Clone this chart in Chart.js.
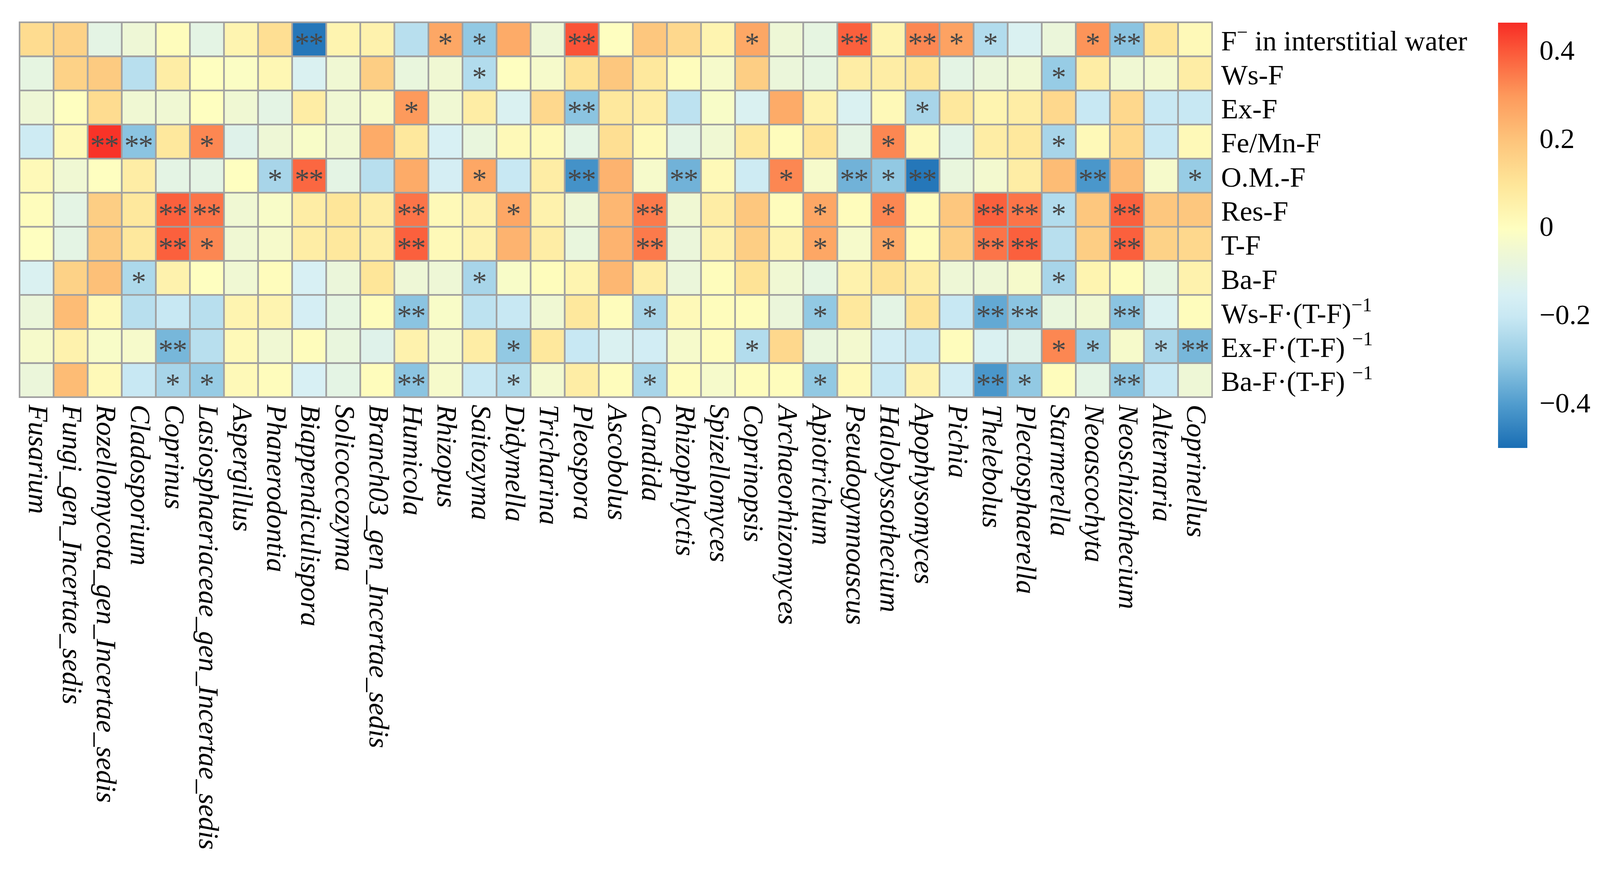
<!DOCTYPE html>
<html lang="en">
<head>
<meta charset="UTF-8">
<title>Fungal genera and fluorine fractions</title>
<script src="https://cdn.jsdelivr.net/npm/chart.js@4/dist/chart.umd.min.js"></script>
<style>
  html, body { margin: 0; padding: 0; background: #fff; }
  #wrap { position: relative; width: 4109px; height: 2243px; }
  #heat { position: absolute; left: 0; top: 0; }
  #bar { position: absolute; left: 3835px; top: 0; }
</style>
</head>
<body>
<div id="wrap">
  <canvas id="heat" width="4109" height="2243"></canvas>
  <canvas id="bar" width="274" height="1250"></canvas>
</div>
<script>
// columns (genera)
const genera = [
  "Fusarium", "Fungi_gen_Incertae_sedis", "Rozellomycota_gen_Incertae_sedis", "Cladosporium",
  "Coprinus", "Lasiosphaeriaceae_gen_Incertae_sedis", "Aspergillus", "Phanerodontia",
  "Biappendiculispora", "Solicoccozyma", "Branch03_gen_Incertae_sedis", "Humicola",
  "Rhizopus", "Saitozyma", "Didymella", "Tricharina", "Pleospora", "Ascobolus", "Candida",
  "Rhizophlyctis", "Spizellomyces", "Coprinopsis", "Archaeorhizomyces", "Apiotrichum",
  "Pseudogymnoascus", "Halobyssothecium", "Apophysomyces", "Pichia", "Thelebolus",
  "Plectosphaerella", "Starmerella", "Neoascochyta", "Neoschizothecium", "Alternaria", "Coprinellus"
];

// rows (fluorine fractions)
const rowLabels = [
  "F⁻ in interstitial water", "Ws-F", "Ex-F", "Fe/Mn-F", "O.M.-F", "Res-F", "T-F", "Ba-F",
  "Ws-F·(T-F)⁻¹", "Ex-F·(T-F) ⁻¹", "Ba-F·(T-F) ⁻¹"
];

// correlation values, one array per row
const fInterstitial = [0.13, 0.16, -0.1, -0.06, 0.01, -0.1, 0.04, 0.12, -0.48, 0.04, 0.05, -0.23, 0.27, -0.3, 0.26, -0.06, 0.41, 0.0, 0.19, 0.14, 0.04, 0.27, -0.06, -0.09, 0.39, 0.04, 0.33, 0.28, -0.24, -0.14, -0.07, 0.31, -0.31, 0.1, 0.02];
const wsF = [-0.09, 0.16, 0.18, -0.23, 0.07, 0.0, -0.01, 0.03, -0.14, -0.05, 0.17, -0.08, -0.05, -0.24, 0.0, -0.03, 0.11, 0.19, 0.09, 0.01, -0.03, 0.17, -0.07, -0.09, 0.07, 0.07, 0.1, -0.1, -0.07, -0.05, -0.29, 0.07, -0.05, -0.04, 0.07];
const exF = [-0.06, 0.0, 0.13, -0.05, -0.05, 0.0, -0.05, -0.1, 0.07, -0.05, -0.03, 0.3, -0.05, 0.07, -0.14, 0.14, -0.31, 0.09, 0.07, -0.22, -0.02, -0.14, 0.26, 0.05, -0.14, 0.02, -0.26, 0.09, 0.04, 0.07, 0.14, -0.2, 0.14, -0.2, -0.2];
const feMnF = [-0.18, 0.02, 0.46, -0.31, 0.09, 0.33, -0.12, -0.06, -0.02, -0.05, 0.26, 0.09, -0.15, -0.08, 0.02, 0.02, -0.1, 0.12, 0.02, -0.1, -0.05, 0.09, 0.01, 0.11, -0.1, 0.33, 0.02, -0.11, 0.07, 0.09, -0.26, 0.02, 0.14, -0.2, 0.02];
const omF = [0.02, -0.05, 0.0, 0.07, -0.1, -0.1, 0.0, -0.26, 0.38, -0.1, -0.23, 0.26, -0.16, 0.27, -0.2, 0.07, -0.42, 0.24, -0.03, -0.35, 0.02, -0.18, 0.33, -0.03, -0.35, -0.3, -0.48, -0.08, -0.04, 0.07, 0.22, -0.41, 0.22, -0.03, -0.29];
const resF = [0.01, -0.1, 0.17, 0.09, 0.39, 0.36, -0.05, -0.02, 0.07, 0.1, 0.07, 0.36, 0.02, 0.05, 0.27, 0.05, -0.06, 0.23, 0.35, -0.05, 0.07, 0.19, 0.01, 0.27, 0.01, 0.33, 0.01, 0.19, 0.39, 0.36, -0.24, 0.19, 0.39, 0.19, 0.19];
const tF = [0.0, -0.1, 0.18, 0.09, 0.39, 0.33, -0.05, -0.03, 0.07, 0.09, 0.07, 0.39, 0.02, 0.05, 0.24, 0.07, -0.08, 0.24, 0.35, -0.07, 0.05, 0.17, 0.04, 0.27, -0.03, 0.27, 0.01, 0.17, 0.36, 0.39, -0.23, 0.17, 0.39, 0.16, 0.14];
const baF = [-0.14, 0.16, 0.21, -0.25, 0.05, 0.0, -0.05, 0.01, -0.15, -0.07, 0.1, -0.06, -0.06, -0.26, -0.02, 0.01, 0.04, 0.23, 0.07, -0.07, 0.01, 0.11, -0.05, -0.09, 0.05, 0.11, 0.07, -0.06, -0.06, -0.03, -0.26, 0.04, 0.01, -0.09, 0.05];
const wsRatio = [-0.07, 0.22, 0.02, -0.23, -0.2, -0.23, 0.04, 0.04, -0.16, -0.09, 0.01, -0.31, -0.02, -0.22, -0.2, -0.05, 0.09, 0.01, -0.26, 0.02, 0.01, 0.01, -0.07, -0.3, 0.09, -0.1, 0.11, -0.2, -0.37, -0.31, -0.08, -0.05, -0.31, -0.14, 0.01];
const exRatio = [-0.03, 0.05, -0.02, -0.03, -0.34, -0.23, 0.02, -0.05, 0.01, -0.08, -0.12, 0.05, -0.03, 0.07, -0.3, 0.09, -0.2, -0.14, -0.17, -0.03, 0.01, -0.24, 0.14, -0.08, -0.04, -0.17, -0.2, 0.01, -0.14, -0.12, 0.33, -0.29, -0.03, -0.26, -0.34];
const baRatio = [-0.07, 0.22, 0.02, -0.2, -0.26, -0.29, 0.02, 0.01, -0.15, -0.1, 0.01, -0.31, -0.03, -0.2, -0.24, -0.04, 0.07, 0.01, -0.26, 0.01, -0.03, 0.01, 0.01, -0.3, 0.02, -0.2, 0.05, -0.17, -0.41, -0.3, 0.01, -0.1, -0.31, -0.2, -0.06];

// significance: 0 none, 1 = *, 2 = **
const sigFInterstitial = [0,0,0,0,0,0,0,0,2,0,0,0,1,1,0,0,2,0,0,0,0,1,0,0,2,0,2,1,1,0,0,1,2,0,0];
const sigWsF = [0,0,0,0,0,0,0,0,0,0,0,0,0,1,0,0,0,0,0,0,0,0,0,0,0,0,0,0,0,0,1,0,0,0,0];
const sigExF = [0,0,0,0,0,0,0,0,0,0,0,1,0,0,0,0,2,0,0,0,0,0,0,0,0,0,1,0,0,0,0,0,0,0,0];
const sigFeMnF = [0,0,2,2,0,1,0,0,0,0,0,0,0,0,0,0,0,0,0,0,0,0,0,0,0,1,0,0,0,0,1,0,0,0,0];
const sigOmF = [0,0,0,0,0,0,0,1,2,0,0,0,0,1,0,0,2,0,0,2,0,0,1,0,2,1,2,0,0,0,0,2,0,0,1];
const sigResF = [0,0,0,0,2,2,0,0,0,0,0,2,0,0,1,0,0,0,2,0,0,0,0,1,0,1,0,0,2,2,1,0,2,0,0];
const sigTF = [0,0,0,0,2,1,0,0,0,0,0,2,0,0,0,0,0,0,2,0,0,0,0,1,0,1,0,0,2,2,0,0,2,0,0];
const sigBaF = [0,0,0,1,0,0,0,0,0,0,0,0,0,1,0,0,0,0,0,0,0,0,0,0,0,0,0,0,0,0,1,0,0,0,0];
const sigWsRatio = [0,0,0,0,0,0,0,0,0,0,0,2,0,0,0,0,0,0,1,0,0,0,0,1,0,0,0,0,2,2,0,0,2,0,0];
const sigExRatio = [0,0,0,0,2,0,0,0,0,0,0,0,0,0,1,0,0,0,0,0,0,1,0,0,0,0,0,0,0,0,1,1,0,1,2];
const sigBaRatio = [0,0,0,0,1,1,0,0,0,0,0,2,0,0,1,0,0,0,1,0,0,0,0,1,0,0,0,0,2,1,0,0,2,0,0];

const rows = [fInterstitial, wsF, exF, feMnF, omF, resF, tF, baF, wsRatio, exRatio, baRatio];
const sigRows = [sigFInterstitial, sigWsF, sigExF, sigFeMnF, sigOmF, sigResF, sigTF, sigBaF, sigWsRatio, sigExRatio, sigBaRatio];

// colour scale
const colorValues = [-0.5, -0.4, -0.3, -0.2, -0.15, -0.1, -0.05, 0, 0.1, 0.2, 0.3, 0.4, 0.47];
const colorHexes = ["#1a6eb4", "#4f9bcd", "#92c9e3", "#c8e8f3", "#d8f0f4", "#e4f4e4", "#f0f8d3", "#fefec0",
                    "#fee699", "#fdc47b", "#fd9a5c", "#fb5a3a", "#f72c25"];
const barMin = -0.497;
const barMax = 0.467;
const barTicks = [0.4, 0.2, 0, -0.2, -0.4];

function hexToRgb(h) {
  return [parseInt(h.slice(1, 3), 16), parseInt(h.slice(3, 5), 16), parseInt(h.slice(5, 7), 16)];
}

function valueColor(v) {
  if (v <= colorValues[0]) return colorHexes[0];
  for (let i = 1; i < colorValues.length; i++) {
    if (v <= colorValues[i]) {
      const t = (v - colorValues[i - 1]) / (colorValues[i] - colorValues[i - 1]);
      const a = hexToRgb(colorHexes[i - 1]), b = hexToRgb(colorHexes[i]);
      const c = a.map((x, k) => Math.round(x + (b[k] - x) * t));
      return "rgb(" + c.join(",") + ")";
    }
  }
  return colorHexes[colorHexes.length - 1];
}

const gridGrey = "#a0a0a0";

// draws the stars, the axis labels and the outer frame
const heatLabels = {
  id: "heatLabels",
  afterDatasetsDraw(chart) {
    const ctx = chart.ctx;
    const area = chart.chartArea;
    const xs = chart.scales.x, ys = chart.scales.y;

    ctx.save();
    ctx.strokeStyle = gridGrey;
    ctx.lineWidth = 2;
    ctx.strokeRect(area.left - 1, area.top - 1, area.right - area.left + 2, area.bottom - area.top + 2);

    // significance stars, sized so one star is about 28px tall
    ctx.fillStyle = "#474747";
    ctx.textAlign = "center";
    ctx.textBaseline = "alphabetic";
    ctx.font = '100px "Liberation Serif"';
    let m = ctx.measureText("*");
    const starSize = Math.round(100 * 28 / (m.actualBoundingBoxAscent + m.actualBoundingBoxDescent));
    ctx.font = starSize + 'px "Liberation Serif"';
    m = ctx.measureText("*");
    const dy = (m.actualBoundingBoxAscent - m.actualBoundingBoxDescent) / 2;
    chart.data.datasets.forEach((ds, r) => {
      const meta = chart.getDatasetMeta(r);
      meta.data.forEach((el, c) => {
        const n = sigRows[r][c];
        if (!n) return;
        const p = el.getCenterPoint();
        if (n === 1) {
          ctx.fillText("*", p.x, p.y + dy);
        } else {
          ctx.fillText("*", p.x - 18, p.y + dy);
          ctx.fillText("*", p.x + 18, p.y + dy);
        }
      });
    });

    // genus labels, rotated
    ctx.fillStyle = "#000";
    ctx.font = 'italic 72px "Liberation Serif"';
    ctx.textAlign = "left";
    genera.forEach((g, i) => {
      const x = xs.getPixelForValue(i);
      ctx.save();
      ctx.translate(x, area.bottom + 19);
      ctx.rotate(Math.PI / 2);
      ctx.fillText(g, 0, 20);
      ctx.restore();
    });

    // row labels with superscripts
    const supMap = { "⁻": "−", "¹": "1" };
    rowLabels.forEach((lab, r) => {
      const y = ys.getPixelForValue(r + 0.5) + 28;
      let x = area.right + 23;
      let run = "", runSup = false;
      const flush = () => {
        if (!run) return;
        ctx.font = runSup ? '50px "Liberation Serif"' : '72px "Liberation Serif"';
        ctx.fillText(run, x, runSup ? y - 30 : y);
        x += ctx.measureText(run).width;
        run = "";
      };
      for (const ch of lab) {
        const isSup = ch in supMap;
        if (isSup !== runSup) { flush(); runSup = isSup; }
        run += isSup ? supMap[ch] : ch;
      }
      flush();
    });
    ctx.restore();
  }
};

new Chart(document.getElementById("heat"), {
  type: "bar",
  data: {
    labels: genera,
    datasets: rows.map((vals, r) => ({
      label: rowLabels[r],
      data: vals.map(() => 1),
      backgroundColor: vals.map(valueColor),
      borderColor: gridGrey,
      borderWidth: 2.5,
      borderSkipped: false,
      barPercentage: 1,
      categoryPercentage: 1
    }))
  },
  options: {
    responsive: false,
    animation: false,
    devicePixelRatio: 1,
    layout: { padding: { left: 50, top: 57, right: 1006, bottom: 1226 } },
    plugins: { legend: { display: false }, tooltip: { enabled: false } },
    scales: {
      x: { stacked: true, display: false },
      y: { stacked: true, display: false, reverse: true, min: 0, max: rows.length }
    }
  },
  plugins: [heatLabels]
});

// colour key
new Chart(document.getElementById("bar"), {
  type: "bar",
  data: {
    labels: ["key"],
    datasets: [{
      data: [[barMin, barMax]],
      backgroundColor(context) {
        const chart = context.chart;
        if (!chart.chartArea) return null;
        const y = chart.scales.y;
        const g = chart.ctx.createLinearGradient(0, y.getPixelForValue(barMin), 0, y.getPixelForValue(barMax));
        colorValues.forEach((v, i) => {
          const t = Math.min(1, Math.max(0, (v - barMin) / (barMax - barMin)));
          g.addColorStop(t, colorHexes[i]);
        });
        return g;
      },
      borderWidth: 0,
      barPercentage: 1,
      categoryPercentage: 1
    }]
  },
  options: {
    responsive: false,
    animation: false,
    devicePixelRatio: 1,
    layout: { padding: { left: 0, top: 58, right: 0, bottom: 103 } },
    plugins: { legend: { display: false }, tooltip: { enabled: false } },
    scales: {
      x: { display: false },
      y: {
        position: "right",
        min: barMin,
        max: barMax,
        grid: { display: false, drawTicks: false },
        border: { display: false },
        afterBuildTicks(scale) { scale.ticks = barTicks.map(v => ({ value: v })); },
        afterFit(scale) {
          scale.width = 199;
          scale.paddingTop = 0;
          scale.paddingBottom = 0;
        },
        ticks: {
          padding: 31,
          color: "#000",
          font: { family: "Liberation Serif", size: 72 },
          callback: v => (v < 0 ? "−" + Math.abs(v) : String(v))
        }
      }
    }
  }
});
</script>
</body>
</html>
